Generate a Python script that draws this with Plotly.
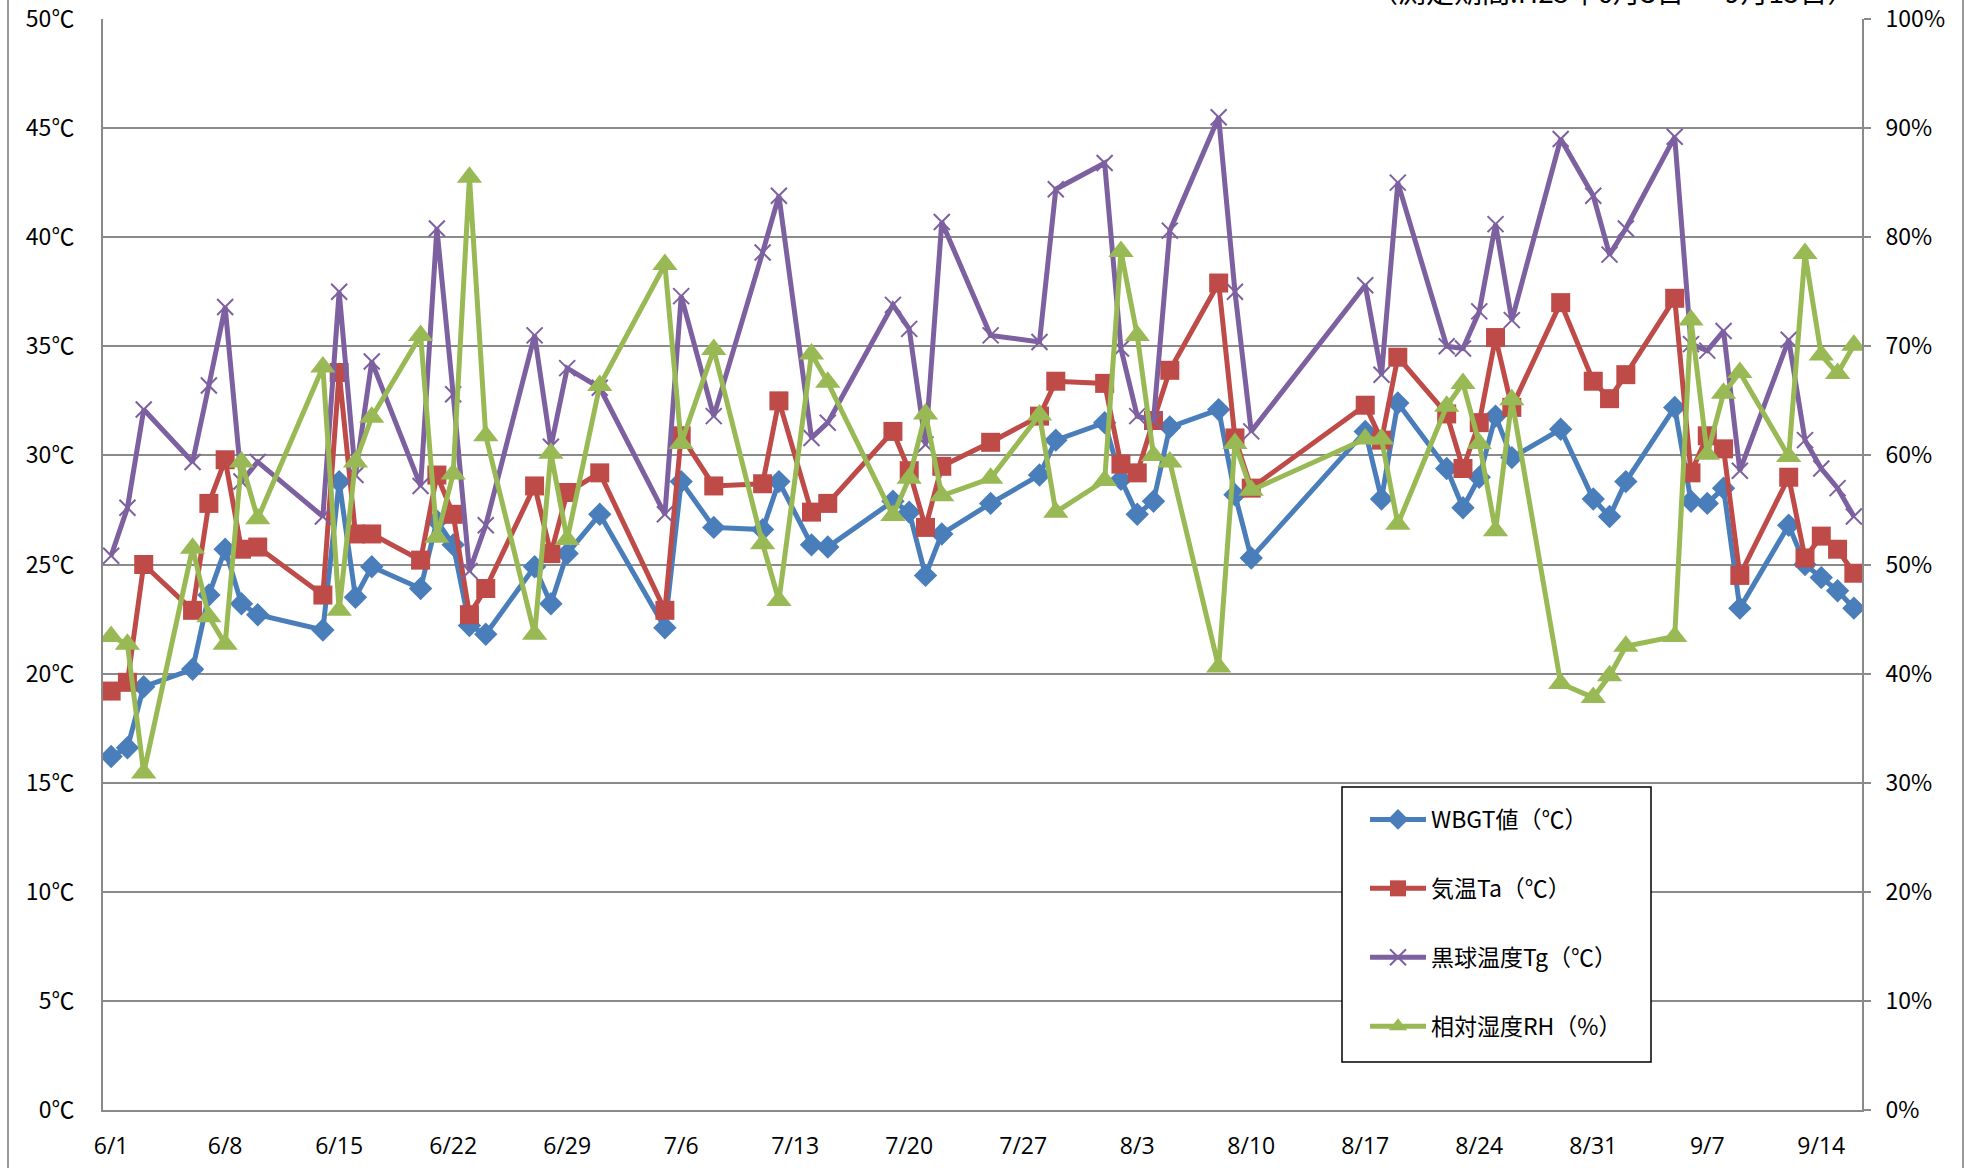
import plotly.graph_objects as go

# ---- data ----
dates = ["2013-06-01", "2013-06-02", "2013-06-03", "2013-06-06", "2013-06-07", "2013-06-08",
         "2013-06-09", "2013-06-10", "2013-06-14", "2013-06-15", "2013-06-16", "2013-06-17",
         "2013-06-20", "2013-06-21", "2013-06-22", "2013-06-23", "2013-06-24", "2013-06-27",
         "2013-06-28", "2013-06-29", "2013-07-01", "2013-07-05", "2013-07-06", "2013-07-08",
         "2013-07-11", "2013-07-12", "2013-07-14", "2013-07-15", "2013-07-19", "2013-07-20",
         "2013-07-21", "2013-07-22", "2013-07-25", "2013-07-28", "2013-07-29", "2013-08-01",
         "2013-08-02", "2013-08-03", "2013-08-04", "2013-08-05", "2013-08-08", "2013-08-09",
         "2013-08-10", "2013-08-17", "2013-08-18", "2013-08-19", "2013-08-22", "2013-08-23",
         "2013-08-24", "2013-08-25", "2013-08-26", "2013-08-29", "2013-08-31", "2013-09-01",
         "2013-09-02", "2013-09-05", "2013-09-06", "2013-09-07", "2013-09-08", "2013-09-09",
         "2013-09-12", "2013-09-13", "2013-09-14", "2013-09-15", "2013-09-16"]

wbgt = [16.2, 16.6, 19.4, 20.2, 23.6, 25.7, 23.2, 22.7, 22.0, 28.8, 23.5, 24.9,
        23.9, 27.0, 25.9, 22.2, 21.8, 24.9, 23.2, 25.5, 27.3, 22.1, 28.8, 26.7,
        26.6, 28.8, 25.9, 25.8, 27.9, 27.4, 24.5, 26.4, 27.8, 29.1, 30.7, 31.5,
        28.9, 27.3, 27.9, 31.3, 32.1, 28.2, 25.3, 31.1, 28.0, 32.4, 29.4, 27.6,
        29.0, 31.8, 29.9, 31.2, 28.0, 27.2, 28.8, 32.2, 27.9, 27.8, 28.5, 23.0,
        26.8, 25.0, 24.4, 23.8, 23.0]

ta = [19.2, 19.6, 25.0, 22.9, 27.8, 29.8, 25.7, 25.8, 23.6, 33.8, 26.4, 26.4,
      25.2, 29.1, 27.3, 22.7, 23.9, 28.6, 25.5, 28.3, 29.2, 22.9, 30.9, 28.6,
      28.7, 32.5, 27.4, 27.8, 31.1, 29.3, 26.7, 29.5, 30.6, 31.8, 33.4, 33.3,
      29.6, 29.2, 31.6, 33.9, 37.9, 30.8, 28.5, 32.3, 30.7, 34.5, 31.9, 29.4,
      31.5, 35.4, 32.2, 37.0, 33.4, 32.6, 33.7, 37.2, 29.2, 30.9, 30.3, 24.5,
      29.0, 25.3, 26.3, 25.7, 24.6]

tg = [25.4, 27.6, 32.1, 29.7, 33.2, 36.8, 28.8, 29.7, 27.2, 37.5, 29.1, 34.3,
      28.6, 40.4, 32.8, 24.7, 26.8, 35.5, 30.4, 34.0, 33.1, 27.3, 37.3, 31.8,
      39.3, 41.9, 30.8, 31.5, 36.9, 35.8, 30.5, 40.7, 35.5, 35.2, 42.2, 43.4,
      34.9, 31.8, 31.6, 40.3, 45.5, 37.5, 31.1, 37.8, 33.7, 42.5, 35.0, 34.9,
      36.6, 40.6, 36.2, 44.5, 41.9, 39.2, 40.4, 44.6, 35.1, 34.8, 35.7, 29.3,
      35.3, 30.7, 29.4, 28.5, 27.2]

rh = [43.4, 42.7, 30.9, 51.5, 45.2, 42.7, 59.4, 54.2, 68.1, 45.8, 59.4, 63.5,
      71.0, 52.5, 58.3, 85.5, 61.8, 43.6, 60.2, 52.3, 66.4, 77.5, 61.1, 69.7,
      51.9, 46.7, 69.3, 66.7, 54.5, 57.9, 63.8, 56.3, 57.9, 63.7, 54.8, 57.7,
      78.7, 71.0, 60.0, 59.4, 40.6, 61.1, 56.8, 61.5, 61.5, 53.7, 64.5, 66.6,
      61.1, 53.1, 65.1, 39.1, 37.8, 39.8, 42.5, 43.4, 72.4, 60.1, 65.7, 67.6,
      59.9, 78.5, 69.2, 67.5, 70.1]

series_names = ["WBGT値（℃）", "気温Ta（℃）", "黒球温度Tg（℃）", "相対湿度RH（%）"]

x_tickvals = ["2013-06-01", "2013-06-08", "2013-06-15", "2013-06-22", "2013-06-29",
              "2013-07-06", "2013-07-13", "2013-07-20", "2013-07-27", "2013-08-03",
              "2013-08-10", "2013-08-17", "2013-08-24", "2013-08-31", "2013-09-07",
              "2013-09-14"]
x_ticktext = ["6/1", "6/8", "6/15", "6/22", "6/29", "7/6", "7/13", "7/20", "7/27",
              "8/3", "8/10", "8/17", "8/24", "8/31", "9/7", "9/14"]

y_tickvals = [0, 5, 10, 15, 20, 25, 30, 35, 40, 45, 50]
y_ticktext = ["0℃", "5℃", "10℃", "15℃", "20℃", "25℃", "30℃", "35℃", "40℃", "45℃", "50℃"]
y2_tickvals = [0, 10, 20, 30, 40, 50, 60, 70, 80, 90, 100]
y2_ticktext = ["0%", "10%", "20%", "30%", "40%", "50%", "60%", "70%", "80%", "90%", "100%"]

period_text = "（測定期間:H25年6月3日 ～ 9月15日）"

# ---- styling ----
W, H = 1966, 1168
ML, MR, MT, MB = 103, 104, 19, 58
GRID = "#8a8a8a"
XFONT = dict(family="Open Sans, Liberation Sans", size=23, color="#000000")
YFONT = dict(family="Noto Sans CJK JP", size=23, color="#000000")
LW = 5
pw = W - ML - MR
ph = H - MT - MB


def px_x(v):
    return (v - ML) / pw


def px_y(v):
    return (H - MB - v) / ph


fig = go.Figure()
fig.add_trace(go.Scatter(x=dates, y=wbgt, name=series_names[0], mode="lines+markers",
                         legendgroup="a",
                         line=dict(color="#4A7EBB", width=LW),
                         marker=dict(symbol="diamond", size=18, color="#4A7EBB")))
fig.add_trace(go.Scatter(x=dates, y=ta, name=series_names[1], mode="lines+markers",
                         legendgroup="b",
                         line=dict(color="#BE4B48", width=LW),
                         marker=dict(symbol="square", size=19, color="#BE4B48")))
fig.add_trace(go.Scatter(x=dates, y=tg, name=series_names[2], mode="lines+markers",
                         legendgroup="c",
                         line=dict(color="#7D60A0", width=LW),
                         marker=dict(symbol="x-thin", size=16, color="#7D60A0",
                                     line=dict(color="#7D60A0", width=2))))
fig.add_trace(go.Scatter(x=dates, y=rh, name=series_names[3], mode="lines+markers",
                         legendgroup="d", yaxis="y2",
                         line=dict(color="#98B954", width=LW),
                         marker=dict(symbol="triangle-up", size=22, color="#98B954")))

fig.update_layout(
    width=W, height=H,
    margin=dict(l=ML, r=MR, t=MT, b=MB, autoexpand=False),
    paper_bgcolor="white", plot_bgcolor="white",
    showlegend=True,
    xaxis=dict(type="date", range=["2013-05-31 12:00", "2013-09-16 12:00"],
               tickvals=x_tickvals, ticktext=x_ticktext, showgrid=False,
               showline=True, linecolor=GRID, linewidth=2, ticks="",
               tickfont=XFONT, ticklabelstandoff=14, zeroline=False, automargin=False),
    yaxis=dict(range=[0, 50], tickvals=y_tickvals, ticktext=y_ticktext,
               showgrid=True, gridcolor=GRID, gridwidth=1.8,
               showline=True, linecolor=GRID, linewidth=2, ticks="",
               tickfont=YFONT, ticklabelstandoff=22, zeroline=False, automargin=False),
    yaxis2=dict(range=[0, 100], tickvals=y2_tickvals, ticktext=y2_ticktext,
                overlaying="y", side="right", showgrid=False,
                showline=True, linecolor=GRID, linewidth=2,
                ticks="outside", ticklen=7, tickcolor=GRID, tickwidth=1.8,
                tickfont=YFONT, ticklabelstandoff=10, zeroline=False, automargin=False),
    legend=dict(x=px_x(1365), y=px_y(798),
                xanchor="left", yanchor="top",
                bgcolor="rgba(0,0,0,0)", borderwidth=0,
                font=dict(family="Noto Sans CJK JP", size=23, color="#000000"),
                tracegroupgap=36, itemwidth=56),
)

# legend frame
fig.add_shape(type="rect", xref="paper", yref="paper", layer="above",
              x0=px_x(1342), x1=px_x(1651), y0=px_y(1062), y1=px_y(787),
              fillcolor="white", line=dict(color="#000000", width=1.5))

# chart-area border (left / right edges)
fig.add_shape(type="line", xref="paper", yref="paper",
              x0=px_x(8), x1=px_x(8), y0=-0.2, y1=1.2,
              line=dict(color="#9a9a9a", width=2))
fig.add_shape(type="line", xref="paper", yref="paper",
              x0=px_x(1963), x1=px_x(1963), y0=-0.2, y1=1.2,
              line=dict(color="#9a9a9a", width=2))

# clipped period caption at the top
fig.add_annotation(text=period_text, xref="paper", yref="paper",
                   x=px_x(1613), y=px_y(-9),
                   xanchor="center", yanchor="middle", showarrow=False,
                   font=dict(family="Noto Sans CJK JP", size=28, color="#000000"))

fig.write_html("out.html", config={"displayModeBar": False},
               post_script="document.body.style.margin='0';")
